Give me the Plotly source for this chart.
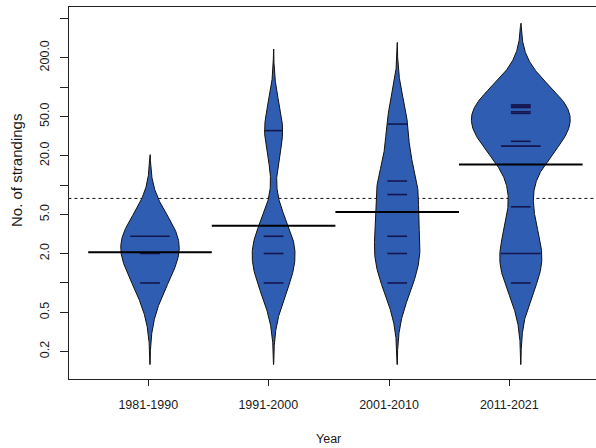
import numpy as np
import plotly.graph_objects as go

# Stranding counts per decade (one value per observation)
periods = ["1981-1990", "1991-2000", "2001-2010", "2011-2021"]
strandings_1981_1990 = [1, 2, 3, 3]
strandings_1991_2000 = [1, 2, 3, 36]
strandings_2001_2010 = [1, 2, 3, 8, 11, 42]
strandings_2011_2021 = [1, 2, 2, 6, 25, 25, 28, 54, 56, 62, 64, 66]
groups = [strandings_1981_1990, strandings_1991_2000,
          strandings_2001_2010, strandings_2011_2021]

# Log-axis ticks
y_tick_values = [0.2, 0.5, 1, 2, 5, 10, 20, 50, 100, 200, 500]
y_tick_text = ["0.2", "0.5", "", "2.0", "5.0", "", "20.0", "50.0", "", "200.0", ""]
x_tick_at = [0.986, 1.957, 2.934, 3.907]

# Bean plot settings (density on log10 scale, common bandwidth)
BW = 0.278
CUT = 3
GROWNAGE = 10
MAXWIDTH = 0.8
LL = 0.16
MEAN_HALF = 0.5

BEAN_FILL = "#2F5DB1"
BEAN_BORDER = "#111111"
STRIP_COLOR = "#15164F"
TEXT_COLOR = "#1a1a1a"
FONT = "Liberation Sans, Arial, sans-serif"


def density(logs):
    t = np.linspace(logs.min() - CUT * BW, logs.max() + CUT * BW, 512)
    z = (t[:, None] - logs[None, :]) / BW
    f = np.exp(-0.5 * z ** 2).sum(axis=1) / (len(logs) * BW * np.sqrt(2 * np.pi))
    return t, f * min(1.0, len(logs) / GROWNAGE)


dens = [density(np.log10(np.array(g, dtype=float))) for g in groups]
wd = (MAXWIDTH / 2) / max(f.max() for _, f in dens)

all_logs = np.log10(np.concatenate([np.array(g, dtype=float) for g in groups]))
overall_mean = 10 ** all_logs.mean()

fig = go.Figure()

# overall mean (dotted), beneath the beans
fig.add_trace(go.Scatter(
    x=[0, 6], y=[overall_mean, overall_mean], mode="lines",
    line=dict(color="#111111", width=1, dash="dot"),
    hoverinfo="skip", showlegend=False))

for i, (g, (t, f)) in enumerate(zip(groups, dens)):
    pos = i + 1
    hw = f * wd
    xs = np.concatenate([pos - hw, (pos + hw)[::-1]])
    ys = 10 ** np.concatenate([t, t[::-1]])
    fig.add_trace(go.Scatter(
        x=xs, y=ys, mode="lines", fill="toself", fillcolor=BEAN_FILL,
        line=dict(color=BEAN_BORDER, width=1), hoverinfo="skip", showlegend=False))

    # one stripe per distinct value, longer when values repeat
    vals, counts = np.unique(np.array(g, dtype=float), return_counts=True)
    sx, sy = [], []
    for v, c in zip(vals, counts):
        half = min(LL * c / 2, np.interp(np.log10(v), t, hw))
        sx += [pos - half, pos + half, None]
        sy += [v, v, None]
    fig.add_trace(go.Scatter(
        x=sx, y=sy, mode="lines", line=dict(color=STRIP_COLOR, width=1.6),
        hoverinfo="skip", showlegend=False))

for i, g in enumerate(groups):
    pos = i + 1
    m = 10 ** np.log10(np.array(g, dtype=float)).mean()
    fig.add_trace(go.Scatter(
        x=[pos - MEAN_HALF, pos + MEAN_HALF], y=[m, m], mode="lines",
        line=dict(color="#000000", width=2), hoverinfo="skip", showlegend=False))

fig.update_layout(
    width=596, height=448,
    margin=dict(l=69, r=0, t=7, b=69),
    plot_bgcolor="white", paper_bgcolor="white",
    font=dict(family=FONT, size=12.5, color=TEXT_COLOR),
    showlegend=False,
    xaxis=dict(
        range=[0.3447, 4.6084], tickmode="array", tickvals=x_tick_at, ticktext=periods,
        ticks="outside", ticklen=6, tickwidth=1, tickcolor="#222222",
        showline=True, linecolor="#222222", linewidth=1, mirror=True,
        showgrid=False, zeroline=False, ticklabelstandoff=8,
        tickfont=dict(family=FONT, size=12.5, color=TEXT_COLOR)),
    yaxis=dict(
        type="log", range=[-0.981, 2.819], tickmode="array",
        tickvals=y_tick_values, ticktext=y_tick_text, tickangle=-90,
        ticks="outside", ticklen=8, tickwidth=1, tickcolor="#222222",
        showline=True, linecolor="#222222", linewidth=1, mirror=False,
        showgrid=False, zeroline=False, ticklabelstandoff=6,
        tickfont=dict(family=FONT, size=12.5, color=TEXT_COLOR)),
    annotations=[
        dict(text="No. of strandings", textangle=-90, xref="paper", yref="paper",
             x=-0.1006, y=0.5618, xanchor="center", yanchor="middle", showarrow=False,
             font=dict(family=FONT, size=15, color=TEXT_COLOR)),
        dict(text="Year", xref="paper", yref="paper", x=0.4915, y=-0.1613,
             xanchor="center", yanchor="middle", showarrow=False,
             font=dict(family=FONT, size=12.5, color=TEXT_COLOR)),
    ],
)

fig.write_html("out.html")
